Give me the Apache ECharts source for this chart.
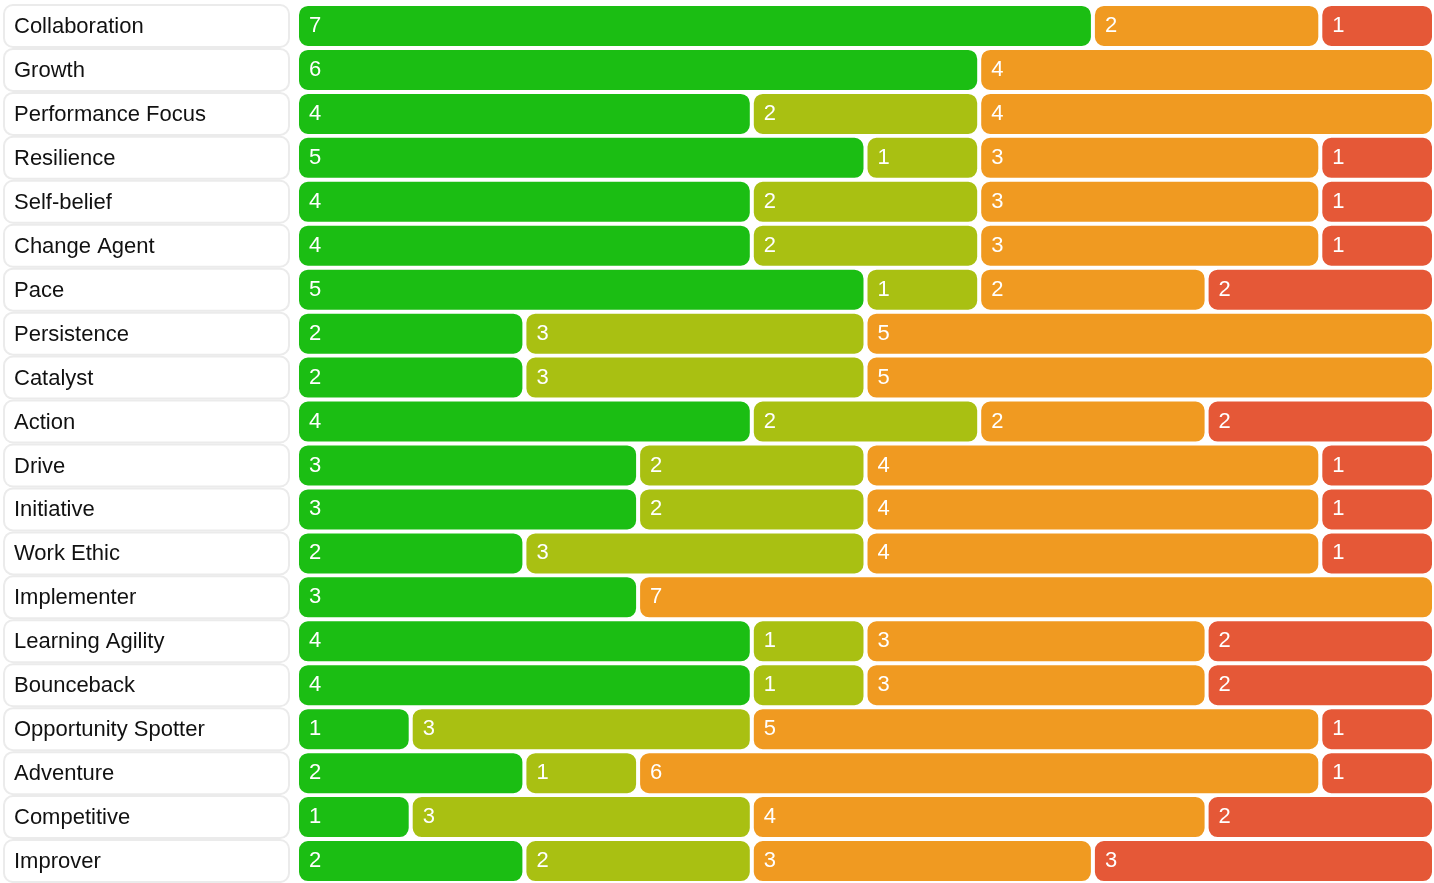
<!DOCTYPE html>
<html>
<head>
<meta charset="utf-8">
<script src="https://cdn.jsdelivr.net/npm/echarts@6/dist/echarts.min.js"></script>
<style>html,body{margin:0;padding:0;background:#fff}#c{width:1434px;height:883px}</style>
</head>
<body>
<div id="c"></div>
<script>
const categories = ["Collaboration","Growth","Performance Focus","Resilience","Self-belief","Change Agent","Pace","Persistence","Catalyst","Action","Drive","Initiative","Work Ethic","Implementer","Learning Agility","Bounceback","Opportunity Spotter","Adventure","Competitive","Improver"];
const greenVals  = [7,6,4,5,4,4,5,2,2,4,3,3,2,3,4,4,1,2,1,2];
const limeVals   = [0,0,2,1,2,2,1,3,3,2,2,2,3,0,1,1,3,1,3,2];
const orangeVals = [2,4,4,3,3,3,2,5,5,2,4,4,4,7,3,3,5,6,4,3];
const redVals    = [1,0,0,1,1,1,2,0,0,2,1,1,1,0,2,2,1,1,2,3];
const seriesColors = ['#1bbe13','#a9c012','#f09a21','#e55837'];
const allVals = [greenVals, limeVals, orangeVals, redVals];

const chart = echarts.init(document.getElementById('c'));
chart.setOption({
  animation: false,
  grid: {left: 294, right: -4, top: 4, height: 880, containLabel: false},
  xAxis: {type: 'value', min: 0, max: 10, show: false},
  yAxis: {
    type: 'category', data: categories, inverse: true,
    axisLine: {show: false}, axisTick: {show: false}, splitLine: {show: false},
    axisLabel: {
      align: 'left', margin: 292, verticalAlign: 'middle',
      showMinLabel: true, showMaxLabel: true, hideOverlap: false, interval: 0,
      formatter: v => '{b|' + v + '}',
      rich: {
        b: {
          width: 274, height: 38, lineHeight: 38, padding: [2, 0, 0, 9],
          backgroundColor: '#fff', borderColor: '#ebebeb', borderWidth: 2, borderRadius: 8,
          fontFamily: 'Liberation Sans, Arial, sans-serif', fontSize: 22, color: '#111',
          verticalAlign: 'middle'
        }
      }
    }
  },
  series: allVals.map((vals, i) => ({
    type: 'bar', stack: 'total', barWidth: 44,
    data: vals.map(v => v === 0 ? null : v),
    itemStyle: {color: seriesColors[i], borderColor: '#fff', borderWidth: 2, borderRadius: 10},
    label: {
      show: true, position: 'insideLeft', distance: 12, color: '#fff',
      fontFamily: 'Liberation Sans, Arial, sans-serif', fontSize: 22,
      formatter: p => p.value
    }
  }))
});
</script>
</body>
</html>
